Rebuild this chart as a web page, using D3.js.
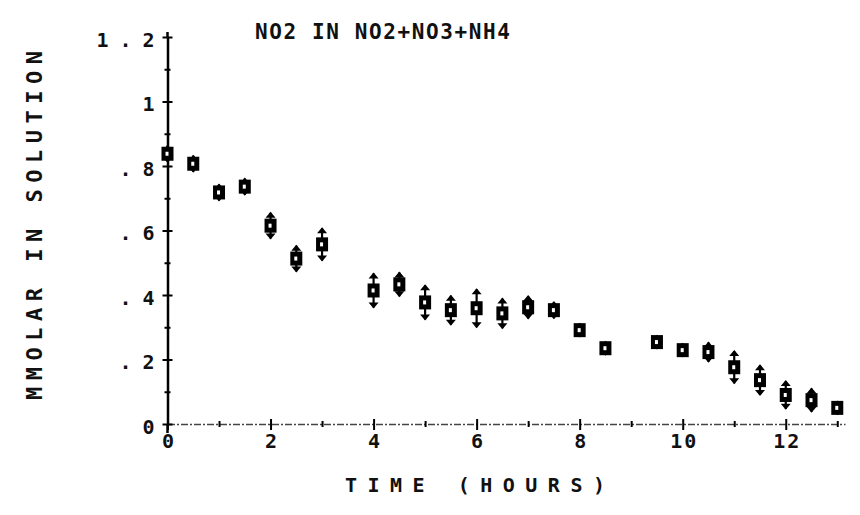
<!DOCTYPE html>
<html lang="en">
<head>
<meta charset="UTF-8">
<title>NO2 in NO2+NO3+NH4</title>
<script src="https://d3js.org/d3.v7.min.js"></script>
<style>
    body { margin: 0; background: #fff; }
    text { font-family: "DejaVu Sans Mono", monospace; font-weight: bold; fill: #111; }
    .axis text { font-size: 20px; }
    .axis--y .domain { stroke: #000; stroke-width: 2.5; }
    .axis--x .domain { stroke: #444; stroke-width: 1.4; stroke-dasharray: 7 2 2 2; }
    .axis line { stroke: #000; stroke-width: 2; }
</style>
</head>
<body>
<svg width="860" height="515"></svg>
<script>

    var hours = [0, 0.5, 1, 1.5, 2, 2.5, 3, 4, 4.5, 5, 5.5, 6, 6.5, 7, 7.5, 8, 8.5, 9.5, 10, 10.5, 11, 11.5, 12, 12.5, 13];
    var no2 = [0.838, 0.807, 0.718, 0.736, 0.615, 0.513, 0.557, 0.414, 0.433, 0.377, 0.353, 0.359, 0.343, 0.362, 0.353, 0.291, 0.235, 0.254, 0.229, 0.223, 0.176, 0.136, 0.090, 0.074, 0.050];
    var no2Err = [0.025, 0.025, 0.025, 0.025, 0.040, 0.040, 0.050, 0.053, 0.037, 0.053, 0.045, 0.059, 0.046, 0.035, 0.025, 0.020, 0.020, 0.020, 0.020, 0.030, 0.050, 0.046, 0.043, 0.036, 0.020];

    var xTicks = [0, 2, 4, 6, 8, 10, 12];
    var xMinor = [1, 3, 5, 7, 9, 11, 13];
    var yTicks = [0, 0.2, 0.4, 0.6, 0.8, 1, 1.2];
    var yTickLabels = ['0', '.2', '.4', '.6', '.8', '1', '1.2'];
    var yMinor = [0.1, 0.3, 0.5, 0.7, 0.9, 1.1];

    var svg = d3.select('svg');

    var x = d3.scaleLinear().domain([0, 13.15]).range([167.5, 845]);
    var y = d3.scaleLinear().domain([0, 1.2]).range([424, 37]);

    // x axis: dotted plotter line with crossing ticks
    var gX = svg.append('g')
        .attr('class', 'axis axis--x')
        .attr('transform', 'translate(0,' + y(0) + ')')
        .call(d3.axisBottom(x).tickValues(xTicks).tickSize(6).tickSizeOuter(0).tickPadding(4).tickFormat(d3.format('d')));
    gX.selectAll('.tick text').attr('letter-spacing', 2).attr('dx', 1);
    svg.append('g')
        .attr('class', 'axis')
        .attr('transform', 'translate(0,' + y(0) + ')')
        .call(d3.axisTop(x).tickValues(xTicks).tickSize(5).tickFormat(''))
        .select('.domain').remove();
    svg.append('g')
        .attr('class', 'axis')
        .attr('transform', 'translate(0,' + (y(0) - 3) + ')')
        .call(d3.axisBottom(x).tickValues(xMinor).tickSize(6).tickFormat(''))
        .select('.domain').remove();

    // y axis
    var gY = svg.append('g')
        .attr('class', 'axis axis--y')
        .attr('transform', 'translate(' + x(0) + ',0)')
        .call(d3.axisLeft(y).tickValues(yTicks).tickSize(5).tickSizeOuter(0).tickPadding(8)
            .tickFormat(function (d, i) { return yTickLabels[i]; }));
    gY.selectAll('.tick text')
        .attr('letter-spacing', 11)
        .attr('dx', 11)
        .attr('dy', '0.45em');
    svg.append('g')
        .attr('class', 'axis')
        .attr('transform', 'translate(' + x(0) + ',0)')
        .call(d3.axisRight(y).tickValues(yTicks).tickSize(5).tickFormat(''))
        .select('.domain').remove();
    svg.append('g')
        .attr('class', 'axis')
        .attr('transform', 'translate(' + (x(0) - 3) + ',0)')
        .call(d3.axisRight(y).tickValues(yMinor).tickSize(6).tickFormat(''))
        .select('.domain').remove();
    svg.append('line')
        .attr('x1', x(0)).attr('x2', x(0))
        .attr('y1', y(0)).attr('y2', y(0) + 9)
        .attr('stroke', '#000').attr('stroke-width', 2.5);
    svg.append('line')
        .attr('x1', x(0)).attr('x2', x(0))
        .attr('y1', y(1.2)).attr('y2', y(1.2) - 5)
        .attr('stroke', '#000').attr('stroke-width', 2.5);

    // error bars with arrow heads
    var pts = svg.append('g').selectAll('g')
        .data(hours)
        .join('g')
        .attr('transform', function (d, i) { return 'translate(' + x(d) + ',' + y(no2[i]) + ')'; });

    pts.append('line')
        .attr('y1', function (d, i) { return y(no2[i] + no2Err[i]) - y(no2[i]); })
        .attr('y2', function (d, i) { return y(no2[i] - no2Err[i]) - y(no2[i]); })
        .attr('stroke', '#000').attr('stroke-width', 2.2);
    pts.append('path')
        .attr('d', function (d, i) {
            var t = y(no2[i] + no2Err[i]) - y(no2[i]);
            var b = y(no2[i] - no2Err[i]) - y(no2[i]);
            return 'M-5,' + (t + 5) + 'L0,' + (t - 1) + 'L5,' + (t + 5) + 'Z' +
                'M-5,' + (b - 5) + 'L0,' + (b + 1) + 'L5,' + (b - 5) + 'Z';
        })
        .attr('fill', '#000');
    pts.append('rect')
        .attr('x', -6).attr('y', -7)
        .attr('width', 12).attr('height', 14)
        .attr('fill', '#000');
    pts.append('rect')
        .attr('x', -2).attr('y', -2)
        .attr('width', 3).attr('height', 4)
        .attr('fill', '#fff');

    // titles
    svg.append('text')
        .attr('x', 255).attr('y', 39)
        .attr('font-size', 21)
        .attr('letter-spacing', 1.6)
        .text('NO2 IN NO2+NO3+NH4');

    svg.append('text')
        .attr('x', 345).attr('y', 492)
        .attr('font-size', 20)
        .attr('letter-spacing', 10.5)
        .text('TIME (HOURS)');

    svg.append('text')
        .attr('transform', 'translate(42,' + 400 + ') rotate(-90)')
        .attr('font-size', 22)
        .attr('letter-spacing', 6.5)
        .text('MMOLAR IN SOLUTION');

</script>
</body>
</html>
